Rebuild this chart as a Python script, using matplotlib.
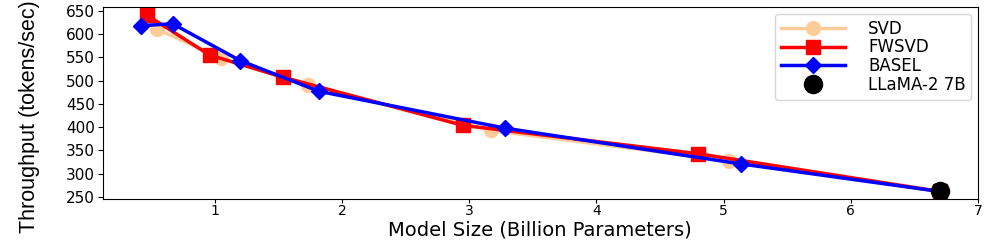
import matplotlib.pyplot as plt

# valeurs
svd_size = [0.55, 1.05, 1.73, 3.17, 5.04, 6.70]
svd_tput = [610, 549, 490, 393, 328, 262]

fwsvd_size = [0.47, 0.96, 1.54, 2.95, 4.80, 6.70]
fwsvd_tput = [640, 555, 507, 404, 343, 262]

basel_size = [0.42, 0.67, 1.20, 1.82, 3.28, 5.14, 6.70]
basel_tput = [618, 622, 543, 477, 398, 321, 262]

llama_size = [6.70]
llama_tput = [262]

fig = plt.figure(figsize=(9.97, 2.42), dpi=100)
ax = fig.add_axes([0.103, 0.178, 0.878, 0.793])

ax.plot(svd_size, svd_tput, color="#FFCC99", marker="o", markersize=10, linewidth=2.5, label="SVD")
ax.plot(fwsvd_size, fwsvd_tput, color="red", marker="s", markersize=10, linewidth=2.5, label="FWSVD")
ax.plot(basel_size, basel_tput, color="blue", marker="D", markersize=8, linewidth=2.5, label="BASEL")
ax.plot(llama_size, llama_tput, color="black", marker="o", markersize=13, linestyle="none", label="LLaMA-2 7B")

ax.set_xlim(0.12, 7)
ax.set_ylim(246, 658)
ax.set_yticks([250, 300, 350, 400, 450, 500, 550, 600, 650])
ax.set_xticks([1, 2, 3, 4, 5, 6, 7])
ax.tick_params(axis="y", labelsize=11, pad=2)
ax.tick_params(axis="x", labelsize=10, length=3, pad=1)

ax.set_xlabel("Model Size (Billion Parameters)", fontsize=14)
ax.xaxis.set_label_coords(0.5, -0.112)
ax.set_ylabel("Throughput (tokens/sec)", fontsize=15.5, family="Liberation Sans")
ax.yaxis.set_label_coords(-0.072, 0.43)

ax.legend(loc="upper right", fontsize=12, labelspacing=0.05, handlelength=3.8,
          handletextpad=1.4, borderpad=0.35, borderaxespad=0.4)

plt.savefig("out.png")
